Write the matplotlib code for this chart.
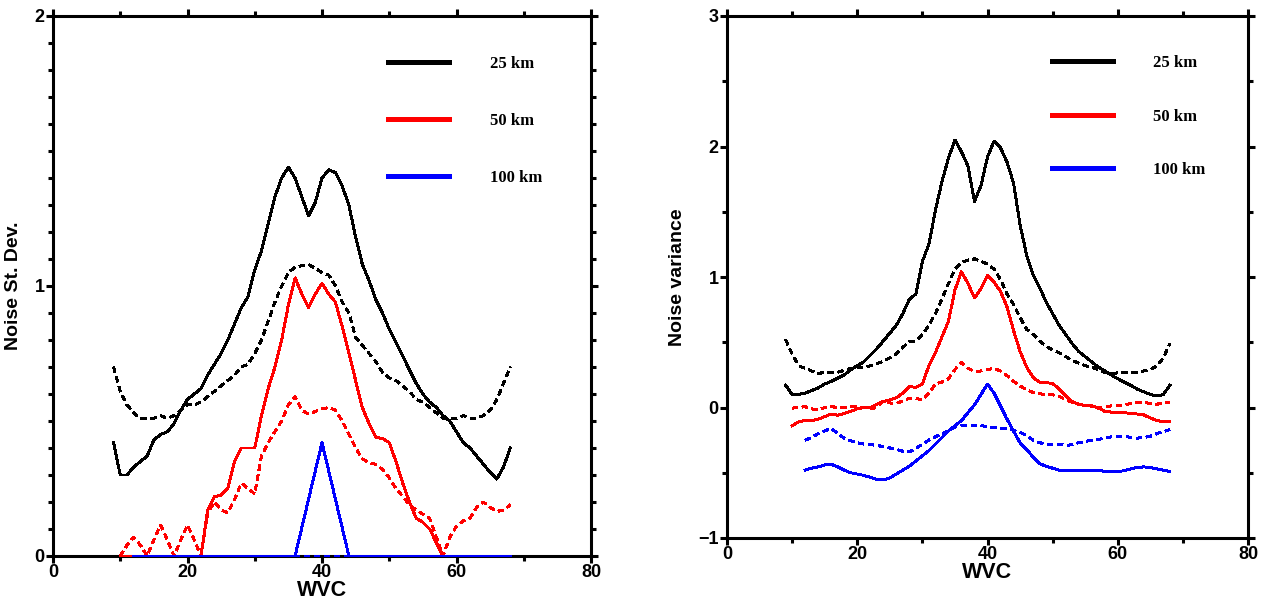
import numpy as np
import matplotlib
matplotlib.use("Agg")
import matplotlib.pyplot as plt
from matplotlib.lines import Line2D
from matplotlib.ticker import MultipleLocator

# wind vector cell index for each swath
wvc_25 = list(range(9, 69))
wvc_50 = list(range(10, 69))
wvc_100 = list(range(12, 69))

# --- noise standard deviation (left) ---
std_25 = [0.42, 0.30, 0.30, 0.33, 0.35, 0.37, 0.43, 0.45, 0.46, 0.49,
          0.54, 0.58, 0.60, 0.62, 0.67, 0.71, 0.75, 0.80, 0.86, 0.92,
          0.96, 1.06, 1.13, 1.23, 1.33, 1.40, 1.44, 1.40, 1.33, 1.26,
          1.31, 1.40, 1.43, 1.42, 1.37, 1.30, 1.18, 1.08, 1.02, 0.95,
          0.90, 0.84, 0.79, 0.74, 0.69, 0.64, 0.60, 0.57, 0.55, 0.52,
          0.50, 0.46, 0.42, 0.40, 0.37, 0.34, 0.31, 0.285, 0.33, 0.40]
std_25_d = [0.70, 0.61, 0.56, 0.53, 0.51, 0.51, 0.51, 0.52, 0.51, 0.52,
            0.54, 0.56, 0.56, 0.57, 0.59, 0.61, 0.63, 0.65, 0.67, 0.70,
            0.71, 0.75, 0.80, 0.87, 0.94, 1.00, 1.05, 1.07, 1.075, 1.08,
            1.065, 1.05, 1.04, 1.00, 0.94, 0.90, 0.81, 0.78, 0.75, 0.72,
            0.68, 0.66, 0.65, 0.63, 0.61, 0.58, 0.57, 0.55, 0.53, 0.51,
            0.51, 0.51, 0.52, 0.51, 0.51, 0.52, 0.54, 0.58, 0.64, 0.70]
std_50 = [0.0, 0.0, 0.0, 0.0, 0.0, 0.0, 0.0, 0.0, 0.0, 0.0,
          0.0, 0.0, 0.0, 0.17, 0.22, 0.225, 0.25, 0.35, 0.40, 0.40,
          0.40, 0.52, 0.62, 0.70, 0.80, 0.93, 1.03, 0.97, 0.92, 0.97,
          1.01, 0.97, 0.94, 0.85, 0.75, 0.65, 0.55, 0.49, 0.44, 0.435,
          0.42, 0.35, 0.27, 0.20, 0.14, 0.125, 0.10, 0.05, 0.0, 0.0,
          0.0, 0.0, 0.0, 0.0, 0.0, 0.0, 0.0, 0.0, 0.0]
std_50_d = [0.0, 0.04, 0.07, 0.04, 0.0, 0.06, 0.115, 0.06, 0.0, 0.06,
            0.115, 0.06, 0.0, 0.16, 0.20, 0.17, 0.16, 0.21, 0.27, 0.25,
            0.23, 0.37, 0.42, 0.46, 0.50, 0.56, 0.59, 0.54, 0.525, 0.535,
            0.545, 0.55, 0.54, 0.50, 0.45, 0.40, 0.36, 0.345, 0.34, 0.32,
            0.29, 0.25, 0.22, 0.19, 0.17, 0.155, 0.14, 0.07, 0.0, 0.07,
            0.11, 0.13, 0.14, 0.18, 0.20, 0.18, 0.165, 0.17, 0.19]
std_100 = [0.0, 0.0, 0.0, 0.0, 0.0, 0.0, 0.0, 0.0, 0.0, 0.0,
           0.0, 0.0, 0.0, 0.0, 0.0, 0.0, 0.0, 0.0, 0.0, 0.0,
           0.0, 0.0, 0.0, 0.0, 0.0, 0.105, 0.21, 0.315, 0.42, 0.315,
           0.21, 0.105, 0.0, 0.0, 0.0, 0.0, 0.0, 0.0, 0.0, 0.0,
           0.0, 0.0, 0.0, 0.0, 0.0, 0.0, 0.0, 0.0, 0.0, 0.0,
           0.0, 0.0, 0.0, 0.0, 0.0, 0.0, 0.0]
std_100_d = [0.0, 0.0, 0.0, 0.0, 0.0, 0.0, 0.0, 0.0, 0.0, 0.0,
             0.0, 0.0, 0.0, 0.0, 0.0, 0.0, 0.0, 0.0, 0.0, 0.0,
             0.0, 0.0, 0.0, 0.0, 0.0, 0.0, 0.0, 0.0, 0.0, 0.0,
             0.0, 0.0, 0.0, 0.0, 0.0, 0.0, 0.0, 0.0, 0.0, 0.0,
             0.0, 0.0, 0.0, 0.0, 0.0, 0.0, 0.0, 0.0, 0.0, 0.0,
             0.0, 0.0, 0.0, 0.0, 0.0, 0.0, 0.0]

# --- noise variance (right) ---
var_25 = [0.17, 0.10, 0.10, 0.11, 0.13, 0.15, 0.18, 0.20, 0.225, 0.25,
          0.29, 0.32, 0.35, 0.40, 0.45, 0.51, 0.57, 0.63, 0.72, 0.83,
          0.87, 1.12, 1.25, 1.51, 1.73, 1.91, 2.05, 1.96, 1.85, 1.58,
          1.70, 1.92, 2.04, 1.99, 1.88, 1.72, 1.40, 1.17, 1.02, 0.92,
          0.81, 0.72, 0.63, 0.56, 0.49, 0.43, 0.39, 0.35, 0.31, 0.28,
          0.25, 0.22, 0.195, 0.17, 0.14, 0.12, 0.10, 0.088, 0.10, 0.17]
var_25_d = [0.52, 0.41, 0.32, 0.30, 0.28, 0.26, 0.27, 0.27, 0.27, 0.285,
            0.30, 0.305, 0.305, 0.32, 0.335, 0.355, 0.38, 0.41, 0.46, 0.505,
            0.51, 0.56, 0.63, 0.72, 0.83, 0.95, 1.06, 1.11, 1.13, 1.14,
            1.12, 1.10, 1.06, 0.98, 0.87, 0.79, 0.69, 0.60, 0.56, 0.51,
            0.47, 0.44, 0.42, 0.39, 0.36, 0.34, 0.32, 0.31, 0.29, 0.27,
            0.262, 0.265, 0.267, 0.267, 0.27, 0.28, 0.29, 0.32, 0.38, 0.49]
var_50 = [-0.14, -0.11, -0.10, -0.10, -0.09, -0.07, -0.05, -0.06, -0.045, -0.03,
          -0.01, 0.0, 0.0, 0.025, 0.045, 0.057, 0.075, 0.11, 0.16, 0.155,
          0.18, 0.32, 0.42, 0.54, 0.66, 0.90, 1.04, 0.95, 0.84, 0.91,
          1.01, 0.96, 0.89, 0.77, 0.59, 0.43, 0.31, 0.23, 0.195, 0.19,
          0.185, 0.14, 0.09, 0.045, 0.025, 0.015, 0.01, 0.0, -0.03, -0.035,
          -0.04, -0.04, -0.045, -0.05, -0.057, -0.08, -0.10, -0.11, -0.11]
var_50_d = [-0.005, 0.0, 0.006, -0.01, -0.02, 0.0, 0.01, -0.005, 0.0, 0.01,
            0.005, 0.0, -0.01, 0.0, 0.05, 0.035, 0.032, 0.05, 0.07, 0.07,
            0.057, 0.11, 0.18, 0.195, 0.22, 0.29, 0.345, 0.30, 0.275, 0.28,
            0.29, 0.30, 0.28, 0.245, 0.20, 0.165, 0.135, 0.115, 0.105, 0.10,
            0.098, 0.085, 0.06, 0.04, 0.025, 0.02, 0.015, -0.005, 0.005, 0.012,
            0.015, 0.019, 0.03, 0.038, 0.04, 0.03, 0.025, 0.035, 0.04]
var_100 = [-0.48, -0.465, -0.455, -0.44, -0.435, -0.455, -0.48, -0.50, -0.51, -0.52,
           -0.535, -0.55, -0.555, -0.54, -0.51, -0.48, -0.45, -0.41, -0.37, -0.33,
           -0.28, -0.23, -0.18, -0.14, -0.10, -0.04, 0.02, 0.10, 0.18, 0.11,
           0.01, -0.09, -0.18, -0.27, -0.32, -0.38, -0.43, -0.45, -0.465, -0.48,
           -0.48, -0.48, -0.48, -0.48, -0.48, -0.48, -0.49, -0.49, -0.49, -0.485,
           -0.47, -0.46, -0.455, -0.46, -0.47, -0.48, -0.49]
var_100_d = [-0.25, -0.23, -0.20, -0.18, -0.16, -0.20, -0.235, -0.255, -0.27, -0.28,
             -0.285, -0.29, -0.30, -0.31, -0.32, -0.335, -0.34, -0.315, -0.28, -0.25,
             -0.225, -0.20, -0.18, -0.15, -0.14, -0.14, -0.14, -0.14, -0.145, -0.155,
             -0.16, -0.16, -0.175, -0.19, -0.215, -0.25, -0.27, -0.28, -0.28, -0.28,
             -0.29, -0.285, -0.27, -0.26, -0.25, -0.245, -0.235, -0.225, -0.22, -0.22,
             -0.23, -0.235, -0.23, -0.22, -0.20, -0.185, -0.17]

labels = ["25 km", "50 km", "100 km"]
colors = ["black", "red", "blue"]

plt.rcParams["font.family"] = ["Liberation Sans", "DejaVu Sans"]
plt.rcParams["font.weight"] = "bold"
plt.rcParams["lines.antialiased"] = False

fig = plt.figure(figsize=(12.66, 6.0), dpi=100)
ax1 = fig.add_axes([53 / 1266, 44 / 600, 538 / 1266, 540 / 600])
ax2 = fig.add_axes([727 / 1266, 62 / 600, 521 / 1266, 522 / 600])

lw = 1.4
dash = (3, 2.5)


def draw(ax, series):
    for (x, solid, dashed), c in zip(series, colors):
        ax.plot(x, solid, color=c, lw=lw, clip_on=False, zorder=3)
        ax.plot(x, dashed, color=c, lw=lw, dashes=dash, clip_on=False, zorder=3)


draw(ax1, [(wvc_25, std_25, std_25_d),
           (wvc_50, std_50, std_50_d),
           (wvc_100, std_100, std_100_d)])
draw(ax2, [(wvc_25, var_25, var_25_d),
           (wvc_50, var_50, var_50_d),
           (wvc_100, var_100, var_100_d)])

ax1.set_xlim(0, 80)
ax1.set_ylim(0, 2)
ax1.yaxis.set_major_locator(MultipleLocator(1))
ax1.yaxis.set_minor_locator(MultipleLocator(0.1))
ax1.set_ylabel("Noise St. Dev.", fontsize=14, fontweight="bold", labelpad=9)

ax2.set_xlim(0, 80)
ax2.set_ylim(-1, 3)
ax2.yaxis.set_major_locator(MultipleLocator(1))
ax2.yaxis.set_minor_locator(MultipleLocator(0.5))
ax2.set_ylabel("Noise variance", fontsize=14, fontweight="bold", labelpad=9)

for ax, top, spacing in ((ax1, 0.926, 2.45), (ax2, 0.925, 2.25)):
    ax.xaxis.set_major_locator(MultipleLocator(20))
    ax.xaxis.set_minor_locator(MultipleLocator(10))
    ax.set_xlabel("WVC", fontsize=15.5, fontweight="bold", labelpad=-1)
    for s in ax.spines.values():
        s.set_linewidth(2.2)
    ax.tick_params(which="both", direction="out", top=True, right=True,
                   width=2.2, labelsize=13, pad=1)
    ax.tick_params(which="major", length=5)
    ax.tick_params(which="minor", length=3.5)
    for t in ax.get_xticklabels() + ax.get_yticklabels():
        t.set_fontweight("bold")

    handles = [Line2D([], [], color=c, lw=2.2) for c in colors]
    ax.legend(handles, labels, loc="upper left",
              bbox_to_anchor=(0.623, top), frameon=False,
              borderpad=0, borderaxespad=0, handlelength=3.66,
              handletextpad=2.45, labelspacing=spacing,
              prop={"family": "Liberation Serif", "weight": "bold", "size": 12})

fig.savefig("out.png", dpi=100)
